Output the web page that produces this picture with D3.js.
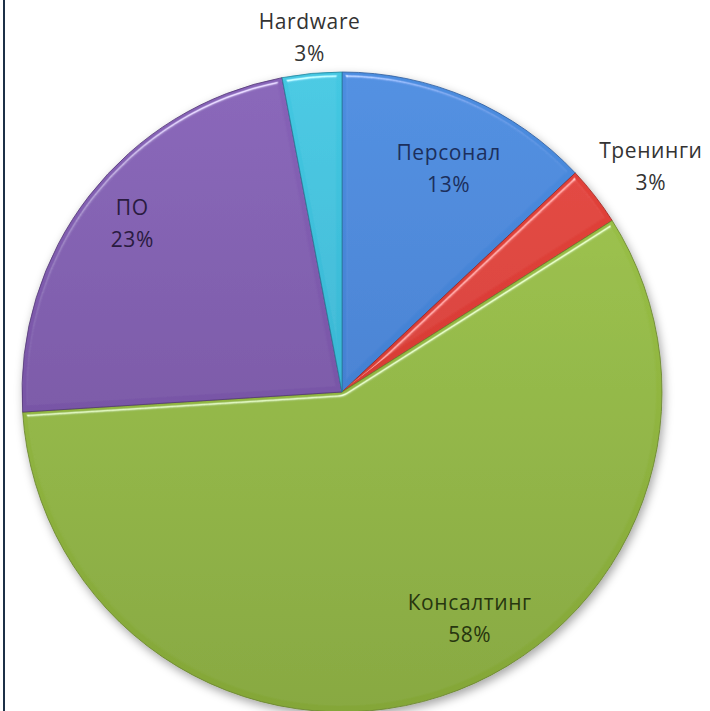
<!DOCTYPE html>
<html>
<head>
<meta charset="utf-8">
<script src="https://cdn.jsdelivr.net/npm/d3@7"></script>
<style>
  html, body { margin: 0; padding: 0; background: #fff; }
  svg text { font-family: "Open Sans", "DejaVu Sans", sans-serif; }
</style>
</head>
<body>
<div id="chart"></div>
<script>
const categories = ['Персонал', 'Тренинги', 'Консалтинг', 'ПО', 'Hardware'];
const shares = [13, 3, 58, 23, 3];
const percentLabels = ['13%', '3%', '58%', '23%', '3%'];

const colorsTop = ['#4c8de0', '#e6443c', '#9ec64a', '#8763b8', '#44c8e2'];
const colorsBottom = ['#3a74c4', '#c8332e', '#84a638', '#6b4996', '#2ea6c6'];
const textColors = ['#1c2f5c', '#333333', '#27360f', '#2a1b40', '#333333'];

const width = 710, height = 711;
const cx = 342, cy = 392, radius = 320;

const svg = d3.select('#chart').append('svg')
  .attr('width', width)
  .attr('height', height);

// left frame line
svg.append('rect')
  .attr('x', 3).attr('y', 0)
  .attr('width', 2).attr('height', height)
  .attr('fill', '#1c3047');

const defs = svg.append('defs');

const shadow = defs.append('filter').attr('id', 'shadow')
  .attr('x', '-10%').attr('y', '-10%').attr('width', '120%').attr('height', '120%');
shadow.append('feDropShadow')
  .attr('dx', 2).attr('dy', 4).attr('stdDeviation', 5)
  .attr('flood-color', '#000').attr('flood-opacity', 0.35);

const bevel = defs.append('filter').attr('id', 'bevel');
bevel.append('feGaussianBlur').attr('in', 'SourceAlpha').attr('stdDeviation', 2.5).attr('result', 'blur');
const spec = bevel.append('feSpecularLighting')
  .attr('in', 'blur').attr('surfaceScale', 4)
  .attr('specularConstant', 0.6).attr('specularExponent', 60)
  .attr('lighting-color', '#ffffff').attr('result', 'spec');
spec.append('feDistantLight').attr('azimuth', 250).attr('elevation', 50);
bevel.append('feComposite').attr('in', 'spec').attr('in2', 'SourceAlpha')
  .attr('operator', 'in').attr('result', 'specIn');
bevel.append('feComposite').attr('in', 'SourceGraphic').attr('in2', 'specIn')
  .attr('operator', 'arithmetic')
  .attr('k1', 0).attr('k2', 1).attr('k3', 1).attr('k4', 0);

categories.forEach((c, i) => {
  const g = defs.append('linearGradient')
    .attr('id', 'grad' + i)
    .attr('gradientUnits', 'userSpaceOnUse')
    .attr('x1', 0).attr('y1', -radius)
    .attr('x2', 0).attr('y2', radius);
  g.append('stop').attr('offset', '0%').attr('stop-color', colorsTop[i]);
  g.append('stop').attr('offset', '100%').attr('stop-color', colorsBottom[i]);
});

const data = categories.map((c, i) => ({ name: c, value: shares[i], pct: percentLabels[i], i }));

const pie = d3.pie().sort(null).value(d => d.value);
const arcs = pie(data);

const arc = d3.arc().innerRadius(0).outerRadius(radius);

const pieG = svg.append('g')
  .attr('transform', `translate(${cx},${cy})`)
  .attr('filter', 'url(#shadow)');

pieG.selectAll('.slice')
  .data(arcs)
  .join('path')
  .attr('class', 'slice')
  .attr('d', arc)
  .attr('fill', d => `url(#grad${d.data.i})`)
  .attr('stroke', d => d3.color(colorsBottom[d.data.i]).darker(0.7))
  .attr('stroke-width', 0.8)
  .attr('filter', 'url(#bevel)');

// labels: inside for big slices, outside for small ones
const fontSize = 21, lineGap = 32;
const insideRadius = radius * 0.8;
// Excel "best fit" placement tweaks: [degrees, px]
const labelNudge = { 'Персонал': [2.3, -10], 'Консалтинг': [-11.3, 5], 'ПО': [0.7, 12] };

const labelG = svg.append('g').attr('transform', `translate(${cx},${cy})`);

arcs.forEach(d => {
  const nudge = labelNudge[d.data.name] || [0, 0];
  const mid = (d.startAngle + d.endAngle) / 2 + nudge[0] * Math.PI / 180;
  const t = labelG.append('text')
    .attr('text-anchor', 'middle')
    .attr('font-size', fontSize)
    .attr('letter-spacing', 0.6)
    .attr('fill', textColors[d.data.i]);
  const l1 = t.append('tspan').text(d.data.name);
  const l2 = t.append('tspan').text(d.data.pct);

  let x, y;
  if (d.data.value < 5) {
    const r = radius + 18;
    const halfW = t.node().getBBox().width / 2;
    const s = Math.sin(mid);
    x = s * r + s * Math.abs(s) * halfW;
    y = -Math.cos(mid) * r - 17;
  } else {
    const r = insideRadius + nudge[1];
    x = Math.sin(mid) * r;
    y = -Math.cos(mid) * r;
  }
  l1.attr('x', x).attr('y', y - 10);
  l2.attr('x', x).attr('y', y - 10 + lineGap);
});
</script>
</body>
</html>
